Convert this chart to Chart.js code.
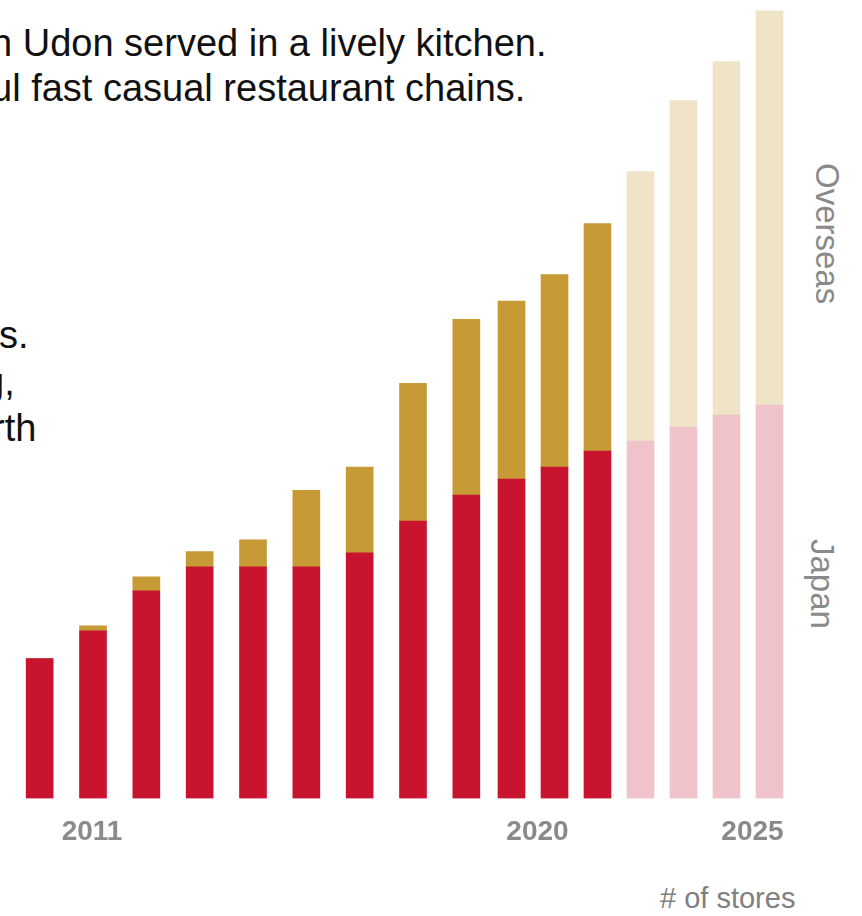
<!DOCTYPE html>
<html>
<head>
<meta charset="utf-8">
<script src="https://cdn.jsdelivr.net/npm/chart.js@4.4.1/dist/chart.umd.min.js"></script>
<style>
  body { margin:0; width:862px; height:916px; overflow:hidden; background:#fff; position:relative;
         font-family:"Liberation Sans", Arial, sans-serif; }
  .txt { position:absolute; color:#111; font-size:38px; line-height:45px; white-space:nowrap; }
  .side { position:absolute; color:#8a8a8a; font-size:33px; writing-mode:vertical-rl; white-space:nowrap; }
  canvas { position:absolute; top:0; }
</style>
</head>
<body>

<div class="txt" style="left:-9px; top:21px;">n Udon served in a lively kitchen.<br>ul fast casual restaurant chains.</div>
<div class="txt" style="left:-1px; top:313px;">s.</div>
<div class="txt" style="left:-17px; top:360px;">g,</div>
<div class="txt" style="left:-8px; top:406px;">rth</div>

<div class="side" style="left:808px; top:163px;">Overseas</div>
<div class="side" style="left:803px; top:539px;">Japan</div>
<div style="position:absolute; left:660px; top:884px; font-size:29px; line-height:29px; color:#808080;"># of stores</div>

<canvas id="chart_a" width="480" height="866" style="left:13px;"></canvas>
<canvas id="chart_b" width="301" height="866" style="left:490px;"></canvas>

<script>
// store counts per year
const years = [2010, 2011, 2012, 2013, 2014, 2015, 2016, 2017, 2018, 2019, 2020, 2021, 2022, 2023, 2024, 2025];
const japanStores = [350, 420, 520, 580, 580, 580, 615, 695, 760, 800, 830, 870, 895, 930, 960, 985];
const overseasStores = [0, 12, 35, 38, 68, 192, 215, 345, 440, 446, 482, 570, 675, 818, 886, 988];
const shownYears = ["2011", "2020", "2025"];
const firstPlanYear = 2022; // from here on the bars are targets (pale)
const splitAt = 9;          // bars after 2018 sit closer together

const colRed = "#c8142f", colGold = "#c69a35";
const colPink = "#f0c3cb", colBeige = "#efe3c8";

function buildChart(canvasId, from, to, labelShift) {
    let yrs = years.slice(from, to);
    let ctx = document.getElementById(canvasId).getContext("2d");
    return new Chart(ctx, {
        type: "bar",
        data: {
            labels: yrs.map(String),
            datasets: [{
                label: "Japan",
                data: japanStores.slice(from, to),
                backgroundColor: yrs.map(y => y >= firstPlanYear ? colPink : colRed),
                barThickness: 27
            }, {
                label: "Overseas",
                data: overseasStores.slice(from, to),
                backgroundColor: yrs.map(y => y >= firstPlanYear ? colBeige : colGold),
                barThickness: 27
            }]
        },
        options: {
            responsive: false,
            animation: false,
            layout: { padding: 0 },
            plugins: { legend: { display: false }, tooltip: { enabled: false } },
            scales: {
                x: {
                    stacked: true,
                    grid: { display: false, drawTicks: false },
                    border: { display: false },
                    ticks: {
                        autoSkip: false,
                        maxRotation: 0,
                        padding: 17,
                        labelOffset: labelShift,
                        color: "#8a8a8a",
                        font: { family: "'Liberation Sans', Arial, sans-serif", size: 28, weight: "bold" },
                        callback: function(val) {
                            let lab = this.getLabelForValue(val);
                            return shownYears.includes(lab) ? lab : "";
                        }
                    },
                    afterFit: function(scale) { scale.paddingLeft = 0; scale.paddingRight = 0; }
                },
                y: { stacked: true, display: false, min: 0, max: 2000 }
            }
        }
    });
}

buildChart("chart_a", 0, splitAt, -1);
buildChart("chart_b", splitAt, years.length, -17);
</script>
</body>
</html>
